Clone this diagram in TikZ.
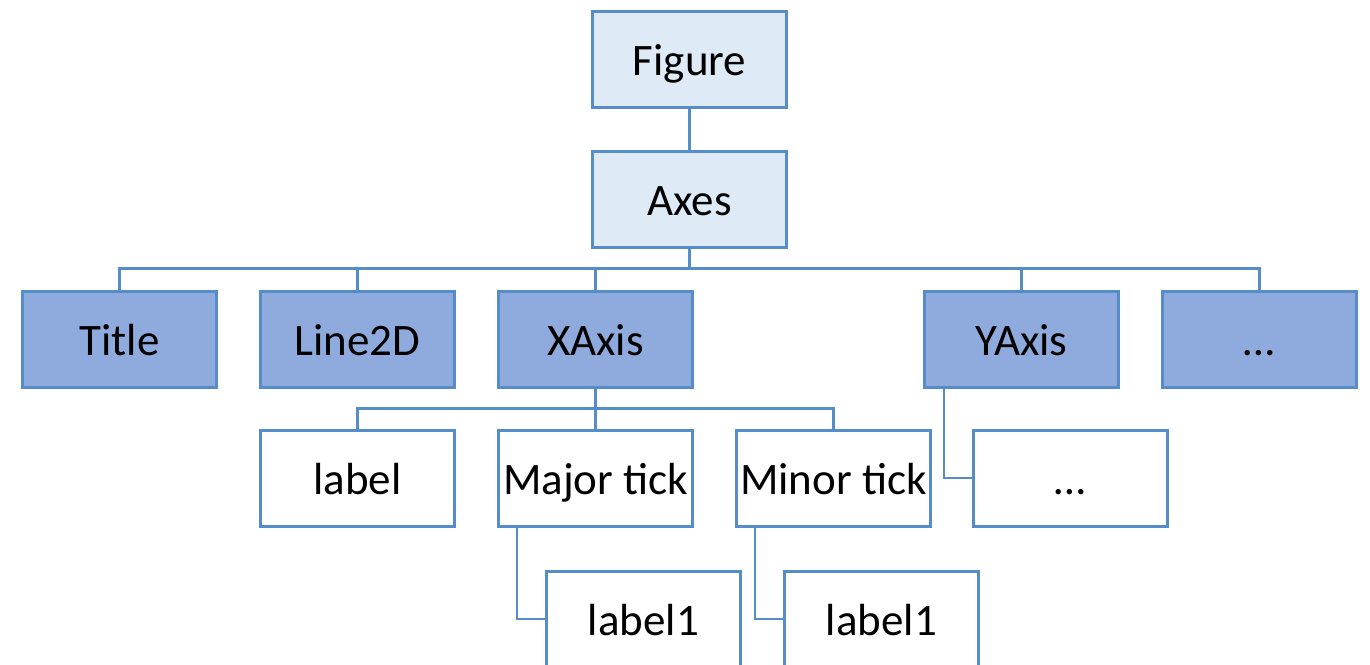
\documentclass[tikz,border=0pt]{standalone}
\usepackage{fontspec}
\setmainfont{Carlito}
\usepackage{tikz}
\usetikzlibrary{positioning}
\definecolor{edgeblue}{RGB}{84,141,200}
\definecolor{lightfill}{RGB}{222,234,246}
\definecolor{darkfill}{RGB}{143,170,220}
\tikzset{%
  box/.style={draw=edgeblue, line width=1.5pt, minimum width=97pt, minimum height=48pt,
    inner sep=0pt, text height=17pt, text depth=1pt, font=\fontsize{22.5}{27}\selectfont},
  topbox/.style={box, fill=lightfill},
  midbox/.style={box, fill=darkfill},
  leafbox/.style={box, fill=white},
  link/.style={draw=edgeblue, line width=1.2pt}
}

\begin{document}
\begin{tikzpicture}[x=0.5pt, y=-0.5pt]
\useasboundingbox (0,0) rectangle (1370,664);

% top of the tree
\node[topbox] (fig) at (689.5,59) {Figure};
\node[topbox] (axes) at (689.5,199) {Axes};

% children of Axes
\node[midbox] (title) at (119.5,339) {Title};
\node[midbox] (line) at (357.5,339) {Line2D};
\node[midbox] (xaxis) at (595.5,339) {XAxis};
\node[midbox] (yaxis) at (1021.5,339) {YAxis};
\node[midbox] (more) at (1259.5,339) {\dots};

% children of XAxis and YAxis
\node[leafbox] (label) at (357.5,478) {label};
\node[leafbox] (major) at (595.5,478) {Major tick};
\node[leafbox] (minor) at (833.5,478) {Minor tick};
\node[leafbox] (ydots) at (1070.5,478) {\dots};

% tick labels
\node[leafbox] (majlabel) at (643.5,619) {label1};
\node[leafbox] (minlabel) at (881.5,619) {label1};

\draw[link] (fig) -- (axes);
\foreach \n in {title,line,xaxis,yaxis,more}
  \draw[link] (axes.south) -- ++(0,20) -| (\n.north);
\foreach \n in {label,major,minor}
  \draw[link] (xaxis.south) -- ++(0,20) -| (\n.north);
\draw[link] ([xshift=10.5pt]yaxis.south west) |- (ydots.west);
\draw[link] ([xshift=10pt]major.south west) |- (majlabel.west);
\draw[link] ([xshift=10pt]minor.south west) |- (minlabel.west);

\end{tikzpicture}
\end{document}
